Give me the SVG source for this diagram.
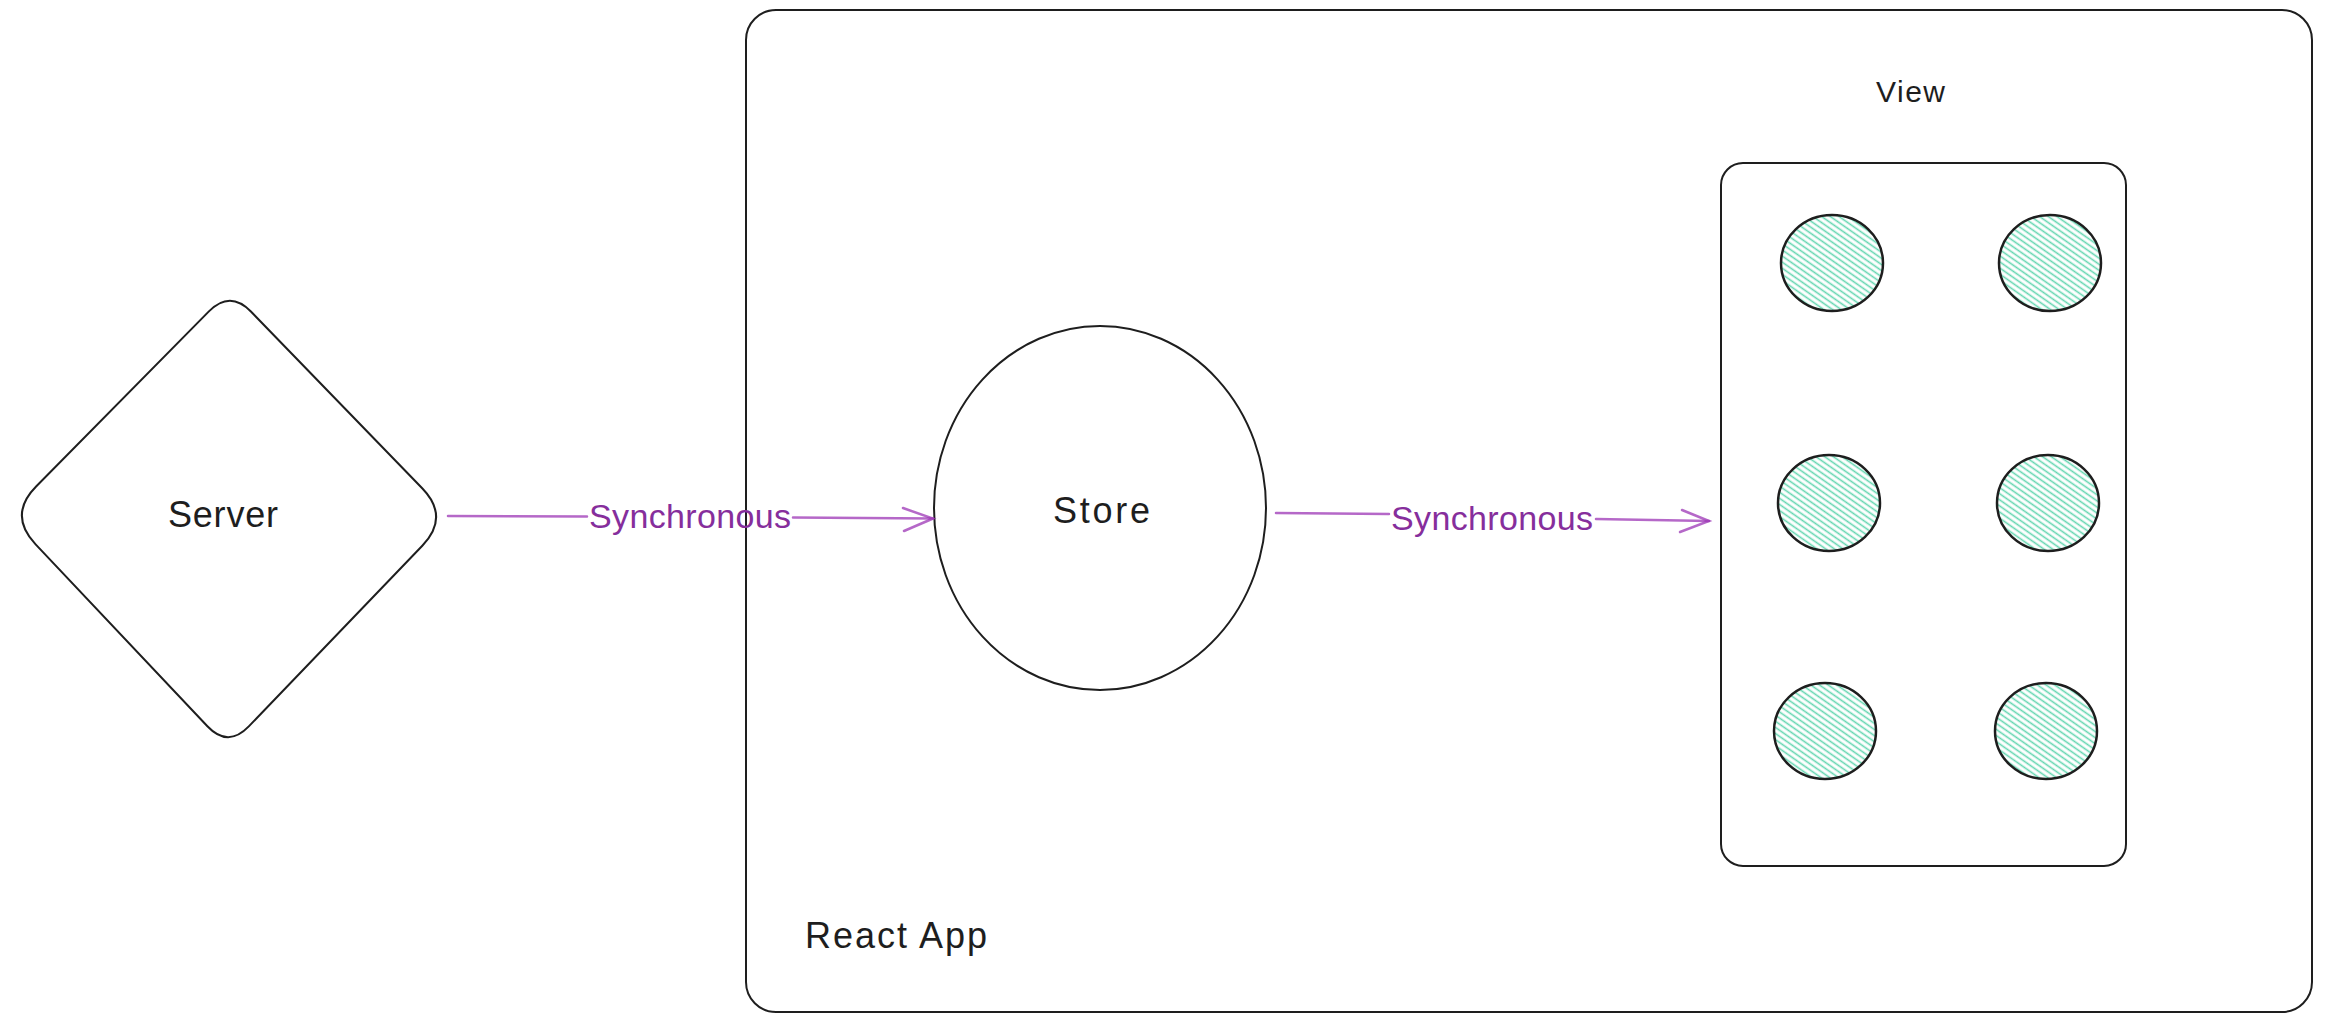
<svg xmlns="http://www.w3.org/2000/svg" width="2326" height="1024" viewBox="0 0 2326 1024">
  <style>
    .shape { fill: none; stroke: #1e1e1e; stroke-width: 2; stroke-linejoin: round; }
    .dot { fill: url(#hatch); stroke: #1e1e1e; stroke-width: 2.5; }
    .label { font-family: "Liberation Sans", Arial, sans-serif; font-size: 36px; fill: #1e1e1e; }
    .conn { fill: none; stroke: #9c36b5; stroke-opacity: 0.75; stroke-width: 2.5; stroke-linecap: round; }
    .clabel { font-family: "Liberation Sans", Arial, sans-serif; font-size: 34px; fill: #862e9c; }
  </style>
  <defs>
    <pattern id="hatch" patternUnits="userSpaceOnUse" width="5" height="5" patternTransform="rotate(35)">
      <rect width="5" height="5" fill="#ffffff"/>
      <line x1="0" y1="2.5" x2="5" y2="2.5" stroke="#63d6b0" stroke-width="1.6"/>
    </pattern>
  </defs>
  <rect width="2326" height="1024" fill="#ffffff"/>

  <g id="react-app">
    <rect class="shape" x="746" y="10" width="1566" height="1002" rx="30" ry="30"/>
    <text class="label" x="805" y="948" textLength="182">React App</text>
  </g>

  <g id="server">
    <path class="shape" d="M 250.9 311.5 L 422.2 488.3 Q 450 517 422.3 545.8 L 248.8 726.4 Q 228 748 207.4 726.2 L 35.4 544.1 Q 8 515 36.1 486.5 L 208.9 311.4 Q 230 290 250.9 311.5 Z"/>
    <text class="label" x="168" y="527" textLength="110">Server</text>
  </g>

  <g id="store">
    <ellipse class="shape" cx="1100" cy="508" rx="166" ry="182"/>
    <text class="label" x="1053" y="523" textLength="97">Store</text>
  </g>

  <g id="view">
    <text class="label" x="1876" y="102" style="font-size:30px" textLength="69">View</text>
    <rect class="shape" x="1721" y="163" width="405" height="703" rx="22" ry="22"/>
  </g>

  <g id="view-item-1"><ellipse class="dot" cx="1832" cy="263" rx="51" ry="48"/></g>
  <g id="view-item-2"><ellipse class="dot" cx="2050" cy="263" rx="51" ry="48"/></g>
  <g id="view-item-3"><ellipse class="dot" cx="1829" cy="503" rx="51" ry="48"/></g>
  <g id="view-item-4"><ellipse class="dot" cx="2048" cy="503" rx="51" ry="48"/></g>
  <g id="view-item-5"><ellipse class="dot" cx="1825" cy="731" rx="51" ry="48"/></g>
  <g id="view-item-6"><ellipse class="dot" cx="2046" cy="731" rx="51" ry="48"/></g>

  <g id="connectors">
    <g id="server-to-store">
      <path class="conn" d="M 448 516 L 587 516.5"/>
      <path class="conn" d="M 793 517.5 L 933 518.5"/>
      <path class="conn" d="M 903 508 L 933 518.5 L 904 531"/>
      <text class="clabel" x="589" y="528" textLength="202">Synchronous</text>
    </g>
    <g id="store-to-view">
      <path class="conn" d="M 1276 513 L 1389 514"/>
      <path class="conn" d="M 1596 519 L 1709 521"/>
      <path class="conn" d="M 1682 510 L 1709 521 L 1680 532"/>
      <text class="clabel" x="1391" y="530" textLength="202">Synchronous</text>
    </g>
  </g>
</svg>
